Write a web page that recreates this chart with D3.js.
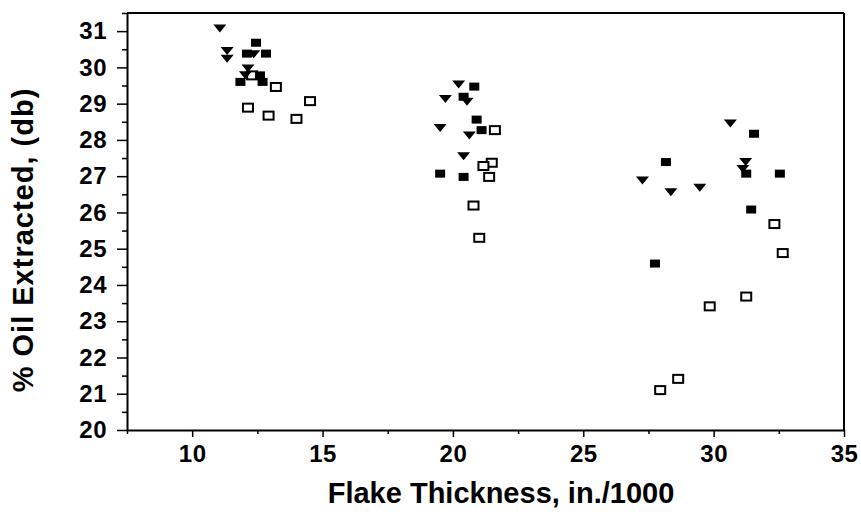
<!DOCTYPE html>
<html>
<head>
<meta charset="utf-8">
<script src="https://cdn.jsdelivr.net/npm/d3@7"></script>
<style>
  body { margin: 0; background: #fff; }
  svg text { font-family: "Liberation Sans", Arial, sans-serif; font-weight: bold; fill: #000; }
  .axis text { font-size: 24px; letter-spacing: 0.5px; }
</style>
</head>
<body>
<svg id="chart" width="861" height="517"></svg>
<script>
// values
const triX = [11.06, 11.34, 11.34, 12.36, 12.14, 12.04, 20.22, 19.71, 20.54, 19.51, 20.63, 20.41, 30.64, 31.23, 31.12, 27.27, 28.36, 29.47];
const triY = [31.07, 30.45, 30.24, 30.36, 29.97, 29.78, 29.53, 29.13, 29.05, 28.33, 28.12, 27.55, 28.45, 27.39, 27.20, 26.88, 26.56, 26.68];

const fillX = [12.45, 12.10, 12.83, 12.60, 11.85, 12.70, 20.82, 20.41, 20.91, 21.10, 19.51, 20.41, 31.55, 28.17, 31.25, 32.54, 31.44, 27.75];
const fillY = [30.68, 30.38, 30.38, 29.78, 29.60, 29.60, 29.47, 29.19, 28.56, 28.27, 27.07, 26.98, 28.17, 27.39, 27.07, 27.07, 26.08, 24.59];

const openX = [12.30, 13.21, 12.14, 12.93, 14.00, 14.52, 21.61, 21.49, 21.17, 21.39, 20.79, 21.01, 32.33, 32.65, 31.25, 29.85, 28.64, 27.95];
const openY = [29.78, 29.46, 28.89, 28.67, 28.58, 29.07, 28.27, 27.37, 27.28, 26.98, 26.19, 25.30, 25.68, 24.88, 23.68, 23.41, 21.41, 21.10];

const xTicks = [10, 15, 20, 25, 30, 35];
const xMinor = [7.5, 12.5, 17.5, 22.5, 27.5, 32.5];
const yTicks = [20, 21, 22, 23, 24, 25, 26, 27, 28, 29, 30, 31];
const yMinor = [20.5, 21.5, 22.5, 23.5, 24.5, 25.5, 26.5, 27.5, 28.5, 29.5, 30.5, 31.5];

const svg = d3.select("#chart");
const margin = {top: 13, right: 17, bottom: 87, left: 127};
const width = +svg.attr("width") - margin.left - margin.right;
const height = +svg.attr("height") - margin.top - margin.bottom;
const g = svg.append("g").attr("transform", `translate(${margin.left},${margin.top})`);

const x = d3.scaleLinear().domain([7.5, 35]).range([0, width]);
const y = d3.scaleLinear().domain([20, 31.5]).range([height, 0]);

// minor ticks first
g.append("g")
    .attr("transform", `translate(0,${height})`)
    .call(d3.axisBottom(x).tickValues(xMinor).tickSize(4).tickFormat(""))
    .call(a => a.select(".domain").remove());
g.append("g")
    .call(d3.axisLeft(y).tickValues(yMinor).tickSize(5).tickFormat(""))
    .call(a => a.select(".domain").remove());

const xAxis = g.append("g")
    .attr("class", "axis")
    .attr("transform", `translate(0,${height})`)
    .call(d3.axisBottom(x).tickValues(xTicks).tickSize(7).tickSizeOuter(0).tickPadding(8).tickFormat(d3.format("d")));
const yAxis = g.append("g")
    .attr("class", "axis")
    .call(d3.axisLeft(y).tickValues(yTicks).tickSize(10).tickSizeOuter(0).tickPadding(10).tickFormat(d3.format("d")));

[xAxis, yAxis].forEach(a => {
    a.attr("font-size", null).attr("font-family", null);
    a.select(".domain").attr("stroke-width", 2);
});
g.selectAll(".tick line").attr("stroke", "#000").attr("stroke-width", 1.5);

// top and right frame lines
g.append("line").attr("x1", 0).attr("x2", width).attr("y1", 0).attr("y2", 0)
    .attr("stroke", "#000").attr("stroke-width", 2);
g.append("line").attr("x1", width).attr("x2", width).attr("y1", 0).attr("y2", height)
    .attr("stroke", "#000").attr("stroke-width", 2);

// open squares
g.selectAll(".open")
    .data(d3.zip(openX, openY))
    .enter().append("rect")
    .attr("class", "open")
    .attr("x", d => x(d[0]) - 5)
    .attr("y", d => y(d[1]) - 4)
    .attr("width", 10)
    .attr("height", 8)
    .attr("fill", "#fff")
    .attr("stroke", "#000")
    .attr("stroke-width", 2);

// filled squares
g.selectAll(".filled")
    .data(d3.zip(fillX, fillY))
    .enter().append("rect")
    .attr("class", "filled")
    .attr("x", d => x(d[0]) - 5)
    .attr("y", d => y(d[1]) - 4)
    .attr("width", 10)
    .attr("height", 8)
    .attr("fill", "#000");

// down triangles
g.selectAll(".tri")
    .data(d3.zip(triX, triY))
    .enter().append("path")
    .attr("class", "tri")
    .attr("d", d => {
        const cx = x(d[0]), cy = y(d[1]);
        return `M${cx - 6.5},${cy - 4}L${cx + 6.5},${cy - 4}L${cx},${cy + 4}Z`;
    })
    .attr("fill", "#000");

svg.append("text")
    .attr("x", 501)
    .attr("y", 503)
    .attr("text-anchor", "middle")
    .style("font-size", "29px")
    .text("Flake Thickness, in./1000");

svg.append("text")
    .attr("transform", "translate(33,240) rotate(-90)")
    .attr("text-anchor", "middle")
    .style("font-size", "29px")
    .style("letter-spacing", "1px")
    .text("% Oil Extracted, (db)");
</script>
</body>
</html>
